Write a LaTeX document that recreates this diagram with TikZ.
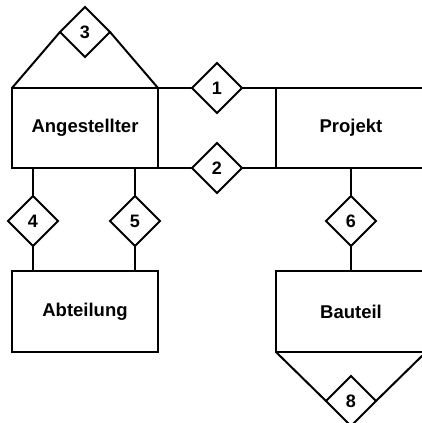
\documentclass[tikz,border=0pt]{standalone}
\usepackage{fontspec}
\setmainfont{Liberation Sans}
\usepackage{tikz}
\usetikzlibrary{shapes}

\begin{document}
\begin{tikzpicture}[x=1pt,y=-1pt]
    \tikzstyle{entity}=[rectangle,draw,line width=2pt,outer sep=0pt,minimum height=80pt,font=\fontsize{18.5}{20}\selectfont\bfseries]
    \tikzstyle{rel}=[diamond,draw,line width=2pt,outer sep=0pt,fill=white,minimum width=50pt,minimum height=50pt,inner sep=0pt,font=\fontsize{18}{20}\selectfont\bfseries]
    \tikzstyle{every path}=[line width=2pt]
    \useasboundingbox (0,0) rectangle (422,423);
    \node[entity,minimum width=146pt] (ang) at (85,128) {Angestellter};
    \node[entity,minimum width=150pt] (proj) at (351,128) {Projekt};
    \node[entity,minimum width=146pt,minimum height=81pt] (abt) at (85,311.5) {Abteilung};
    \node[entity,minimum width=150pt,minimum height=81pt] (bau) at (351,311.5) {Bauteil};
    \node[rel] (r3) at (85,32) {3};
    \node[rel] (r1) at (217,88) {1};
    \node[rel] (r2) at (217,168) {2};
    \node[rel] (r4) at (33,221) {4};
    \node[rel] (r5) at (135,221) {5};
    \node[rel] (r6) at (351,221) {6};
    \node[rel] (r8) at (351,401) {8};
    \draw (ang.north west) -- (r3.west) (r3.east) -- (ang.north east);
    \draw (ang.north east) -- (r1.west) (r1.east) -- (proj.north west);
    \draw (ang.south east) -- (r2.west) (r2.east) -- (proj.south west);
    \draw (ang.south -| r4) -- (r4.north) (r4.south) -- (abt.north -| r4);
    \draw (ang.south -| r5) -- (r5.north) (r5.south) -- (abt.north -| r5);
    \draw (proj.south) -- (r6.north) (r6.south) -- (bau.north);
    \draw (bau.south west) -- (r8.west) (r8.east) -- (bau.south east);
\end{tikzpicture}
\end{document}
